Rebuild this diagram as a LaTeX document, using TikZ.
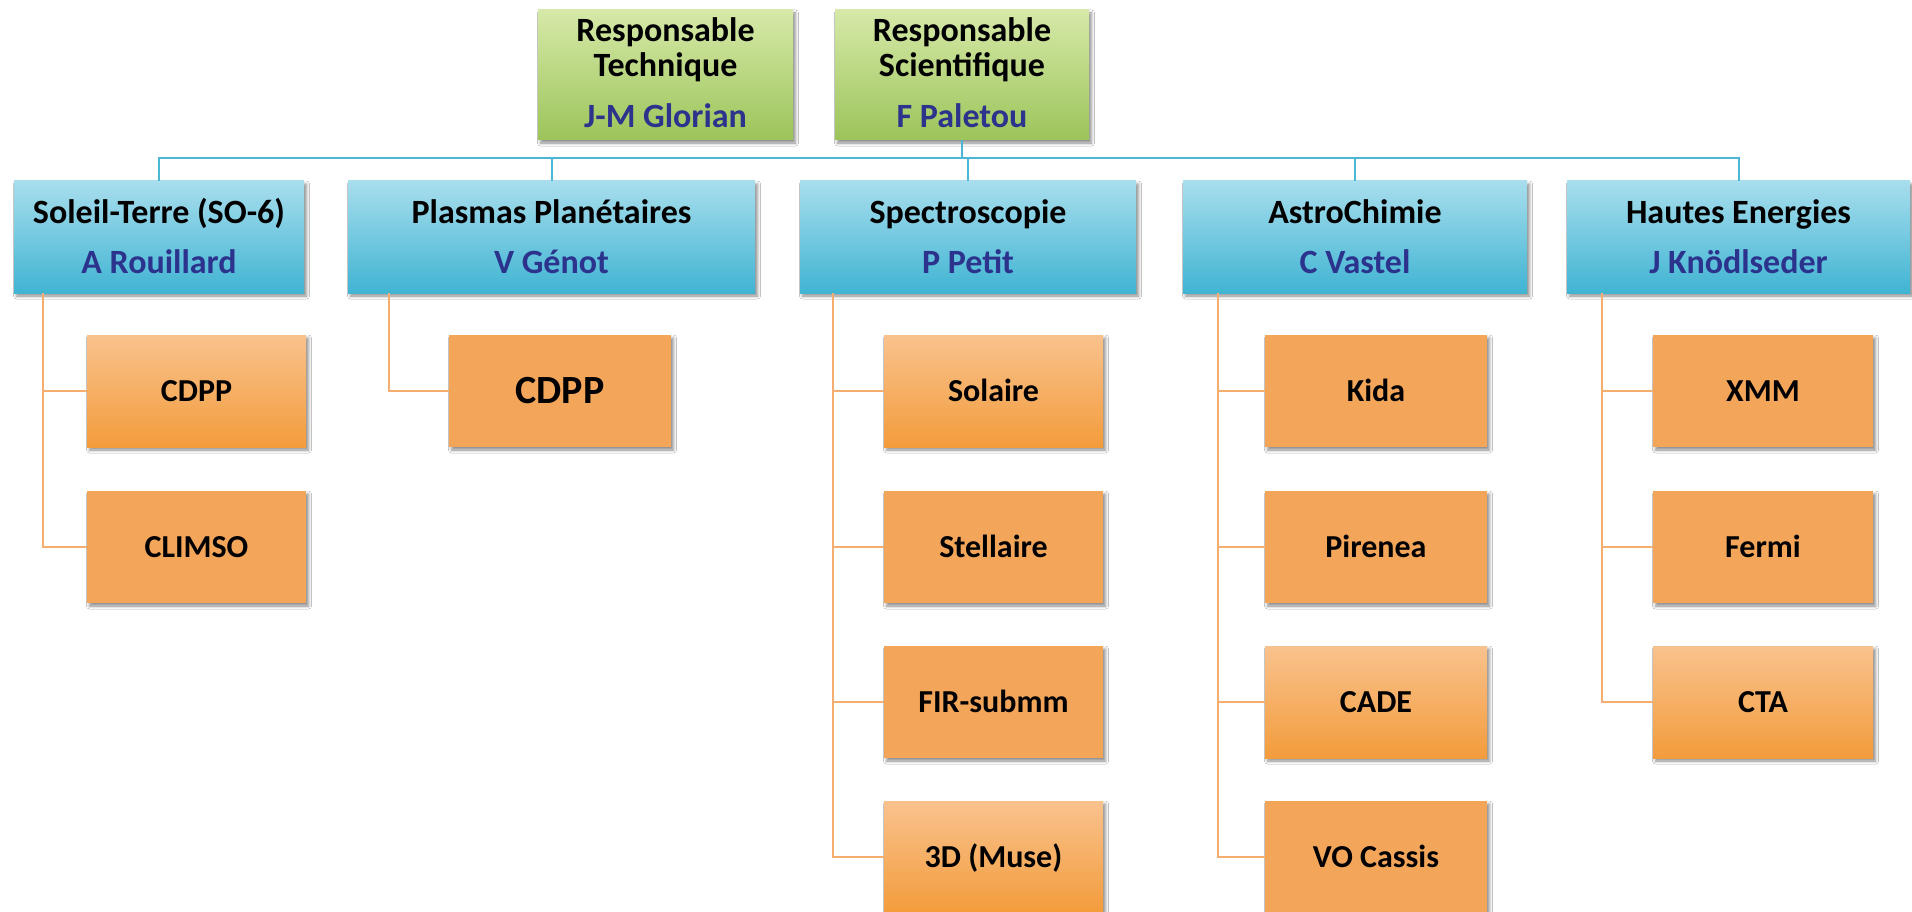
\documentclass[tikz,border=0pt]{standalone}
\usepackage{fontspec}
\setmainfont{Carlito}
\usetikzlibrary{shadows.blur}
\definecolor{gTop}{HTML}{D6E9A8}
\definecolor{gBot}{HTML}{9CC45A}
\definecolor{bTop}{HTML}{A8DEED}
\definecolor{bBot}{HTML}{40B4D3}
\definecolor{oTop}{HTML}{F9C28D}
\definecolor{oBot}{HTML}{F39C3C}
\definecolor{oFlat}{HTML}{F3A65A}
\definecolor{nameBlue}{HTML}{2B338C}
\definecolor{lineBlue}{HTML}{4BB7D5}
\definecolor{lineOrange}{HTML}{F5AE70}
\tikzset{
  box/.style={rectangle, inner sep=0pt,
    blur shadow={shadow xshift=2.5pt, shadow yshift=-3pt, shadow blur radius=3pt, shadow opacity=45}},
  greenbox/.style={box, top color=gTop, bottom color=gBot, minimum width=255pt, minimum height=130pt,
    align=center, font=\fontsize{34}{35}\selectfont\bfseries},
  bluebox/.style={box, top color=bTop, bottom color=bBot, minimum height=112pt,
    align=center, font=\fontsize{34}{50}\selectfont\bfseries},
  obox/.style={box, minimum width=220pt, minimum height=112pt,
    font=\fontsize{32}{38}\selectfont\bfseries, text height=20.6pt, text depth=0pt},
  oflat/.style={obox, fill=oFlat},
  ograd/.style={obox, top color=oTop, bottom color=oBot},
  bline/.style={draw=lineBlue, line width=2pt},
  oline/.style={draw=lineOrange, line width=2pt},
}
\newcommand{\firstl}{\rule{0pt}{26pt}}
\begin{document}
\begin{tikzpicture}[x=1pt, y=-1pt]
\useasboundingbox (0,0) rectangle (1912,912);
\fill[white] (0,0) rectangle (1912,912);

% top
\node[greenbox] (rt) at (665.5,75) {\firstl Responsable\\Technique\\[16pt]{\color{nameBlue}J-M Glorian\rule[-6pt]{0pt}{6pt}}};
\node[greenbox, minimum width=254pt] (rs) at (962,75) {\firstl Responsable\\Scientifique\\[16pt]{\color{nameBlue}F Paletou\rule[-6pt]{0pt}{6pt}}};

% groups
\node[bluebox, minimum width=290pt] (st) at (159,237) {\firstl Soleil-Terre (SO-6)\\{\color{nameBlue}A Rouillard\rule[-4pt]{0pt}{4pt}}};
\node[bluebox, minimum width=407pt] (pp) at (551.5,237) {\firstl Plasmas Planétaires\\{\color{nameBlue}V Génot\rule[-4pt]{0pt}{4pt}}};
\node[bluebox, minimum width=336pt] (sp) at (968,237) {\firstl Spectroscopie\\{\color{nameBlue}P Petit\rule[-4pt]{0pt}{4pt}}};
\node[bluebox, minimum width=344pt] (ac) at (1355,237) {\firstl AstroChimie\\{\color{nameBlue}C Vastel\rule[-4pt]{0pt}{4pt}}};
\node[bluebox, minimum width=343pt] (he) at (1738.5,237) {\firstl Hautes Energies\\{\color{nameBlue}J Knödlseder\rule[-4pt]{0pt}{4pt}}};

\foreach \n in {st,pp,sp,ac,he}
  \draw[bline] (rs.south) -- ++(0,18) -| (\n.north);

% Soleil-Terre
\node[ograd, minimum width=219pt] (st1) at (196.5,391) {CDPP};
\node[oflat, minimum width=219pt] (st2) at (196.5,547) {CLIMSO};
% Plasmas
\node[oflat, minimum width=222pt, font=\fontsize{40}{46}\selectfont\bfseries, text height=25.8pt] (pp1) at (560,391) {CDPP};
% Spectroscopie
\node[ograd, minimum width=219pt] (sp1) at (993.5,391) {Solaire};
\node[oflat, minimum width=219pt] (sp2) at (993.5,547) {Stellaire};
\node[oflat, minimum width=219pt] (sp3) at (993.5,702) {FIR-submm};
\node[ograd, minimum width=219pt] (sp4) at (993.5,857) {3D (Muse)};
% AstroChimie
\node[oflat, minimum width=222pt] (ac1) at (1376,391) {Kida};
\node[oflat, minimum width=222pt] (ac2) at (1376,547) {Pirenea};
\node[ograd, minimum width=222pt] (ac3) at (1376,702) {CADE};
\node[oflat, minimum width=222pt] (ac4) at (1376,857) {VO Cassis};
% Hautes Energies
\node[oflat] (he1) at (1763,391) {XMM};
\node[oflat] (he2) at (1763,547) {Fermi};
\node[ograd] (he3) at (1763,702) {CTA};

\foreach \c in {st1,st2} \draw[oline] ([xshift=29pt]st.south west) |- (\c.west);
\draw[oline] ([xshift=41pt]pp.south west) |- (pp1.west);
\foreach \c in {sp1,sp2,sp3,sp4} \draw[oline] ([xshift=33pt]sp.south west) |- (\c.west);
\foreach \c in {ac1,ac2,ac3,ac4} \draw[oline] ([xshift=35pt]ac.south west) |- (\c.west);
\foreach \c in {he1,he2,he3} \draw[oline] ([xshift=35pt]he.south west) |- (\c.west);
\end{tikzpicture}
\end{document}
